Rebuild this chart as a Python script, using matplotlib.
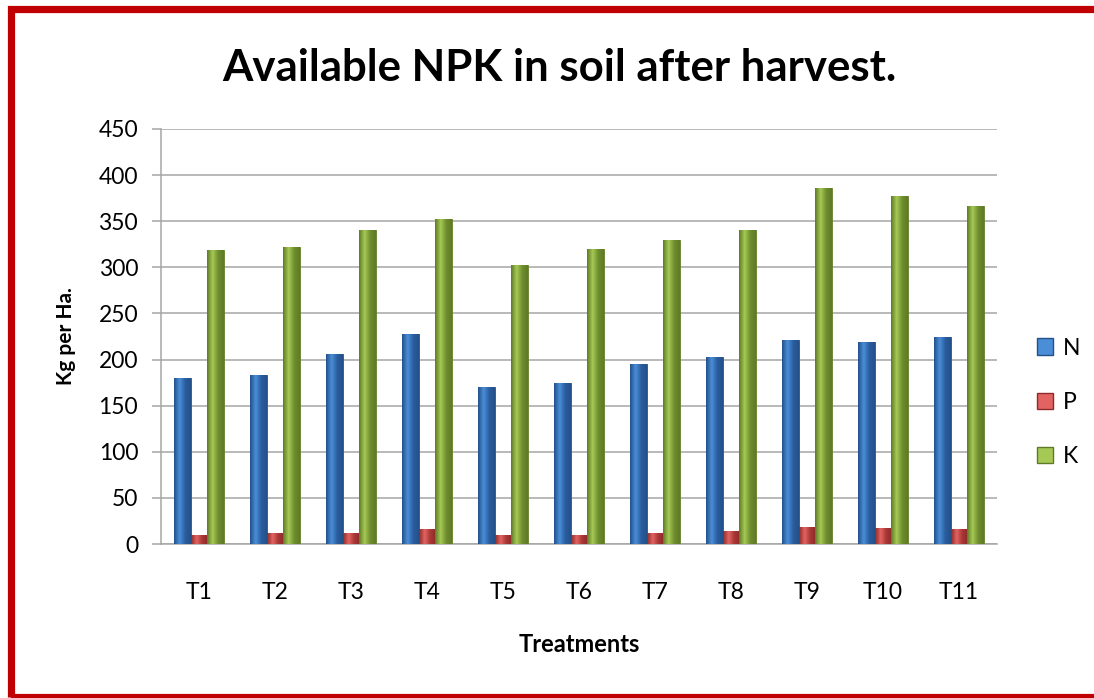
import numpy as np
import matplotlib.pyplot as plt
from matplotlib.patches import Patch, Rectangle
from matplotlib.colors import LinearSegmentedColormap

plt.rcParams['font.family'] = ['Lato', 'DejaVu Sans']

treatments = ['T1', 'T2', 'T3', 'T4', 'T5', 'T6', 'T7', 'T8', 'T9', 'T10', 'T11']
n_vals = [180, 183, 206, 228, 170, 175, 195, 203, 221, 219, 224]
p_vals = [10, 12, 12, 16, 10, 10, 12, 14, 18, 17, 16]
k_vals = [319, 322, 341, 352, 303, 320, 330, 341, 386, 377, 367]

series = [('N', n_vals, ('#24508a', '#4a8ed8', '#2a5e9e')),
          ('P', p_vals, ('#8e2a28', '#e26462', '#a83836')),
          ('K', k_vals, ('#5f7a26', '#a6c956', '#6f8e2e'))]

fig = plt.figure(figsize=(10.94, 6.98), dpi=100)
ax = fig.add_axes([0.1472, 0.2206, 0.7641, 0.5946])

x = np.arange(len(treatments))
w = 0.22
grad = np.linspace(0, 1, 64).reshape(1, -1)

for i, (name, vals, cols) in enumerate(series):
    cmap = LinearSegmentedColormap.from_list(name, [cols[0], cols[1], cols[2], cols[0]])
    bars = ax.bar(x + (i - 1) * w, vals, width=w, color=cols[1], edgecolor=cols[0],
                  linewidth=0.6, zorder=3)
    for b in bars:
        x0, y0 = b.get_x(), b.get_y()
        im = ax.imshow(grad, cmap=cmap, aspect='auto', zorder=3.5,
                       extent=[x0, x0 + b.get_width(), y0, y0 + b.get_height()])
        im.set_clip_path(b)

ax.set_xlim(-0.5, len(treatments) - 0.5)
ax.set_ylim(0, 450)
ax.set_yticks(np.arange(0, 451, 50))
ax.set_xticks(x)
ax.set_xticklabels(treatments)
ax.yaxis.grid(True, color='#a6a6a6', linewidth=1.1, zorder=0)
ax.set_axisbelow(True)
for s in ['top', 'right']:
    ax.spines[s].set_visible(False)
for s in ['left', 'bottom']:
    ax.spines[s].set_color('#a6a6a6')
    ax.spines[s].set_linewidth(1.1)
ax.tick_params(axis='y', length=6.5, color='#a6a6a6', width=1.1, labelsize=16.5, pad=10)
ax.tick_params(axis='x', length=0, labelsize=16.5, pad=27)

ax.set_xlabel('Treatments', fontsize=17, fontweight='bold', labelpad=22)
ax.set_ylabel('Kg per Ha.', fontsize=15, fontweight='bold', labelpad=16)

fig.text(0.511, 0.902, 'Available NPK in soil after harvest.', ha='center', va='center',
         fontsize=31.5, fontweight='bold')

handles = [Patch(facecolor=c[1], edgecolor=c[0]) for _, _, c in series]
fig.legend(handles, [s[0] for s in series], loc='upper left',
           bbox_to_anchor=(0.929, 0.546), frameon=False, fontsize=16.5,
           handlelength=0.7, handleheight=0.7, handletextpad=0.45, labelspacing=1.45)

border = Rectangle((10.5 / 1094, 1 - 697 / 698), 1.2, 688 / 698, transform=fig.transFigure,
                   fill=False, edgecolor='#c00000', linewidth=5.2, clip_on=False)
fig.patches.append(border)

fig.savefig('out.png', dpi=100)
